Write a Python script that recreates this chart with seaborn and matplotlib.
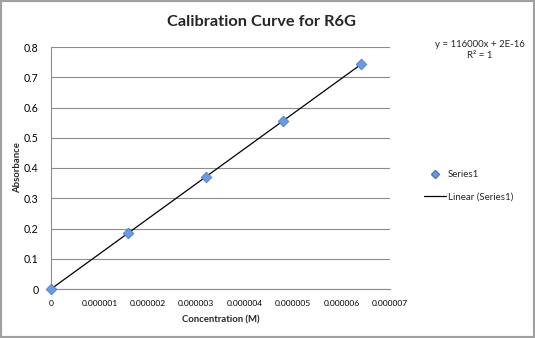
import matplotlib
matplotlib.use("Agg")
import matplotlib.pyplot as plt
import seaborn as sns
import numpy as np
import pandas as pd
from matplotlib.lines import Line2D
from matplotlib.patches import Rectangle

concentration = [0.0, 1.6e-6, 3.2e-6, 4.8e-6, 6.4e-6]
absorbance = [0.0, 0.1856, 0.3712, 0.5568, 0.7424]
x_ticks = [0, 0.000001, 0.000002, 0.000003, 0.000004, 0.000005, 0.000006, 0.000007]
x_tick_labels = ["0", "0.000001", "0.000002", "0.000003", "0.000004", "0.000005", "0.000006", "0.000007"]
y_ticks = [0, 0.1, 0.2, 0.3, 0.4, 0.5, 0.6, 0.7, 0.8]
y_tick_labels = ["0", "0.1", "0.2", "0.3", "0.4", "0.5", "0.6", "0.7", "0.8"]

df = pd.DataFrame({"Concentration (M)": concentration, "Absorbance": absorbance})

sns.set_theme(style="white")
plt.rcParams['font.family'] = ['Lato', 'DejaVu Sans']

fig = plt.figure(figsize=(5.35, 3.38), dpi=100)
ax = fig.add_axes([51/535, 49/338, 339/535, 242/338])

# trendline
slope, intercept = np.polyfit(concentration, absorbance, 1)
xs = np.array([concentration[0], concentration[-1]])
ax.plot(xs, slope*xs + intercept, color="black", lw=0.9, zorder=3)

sns.scatterplot(data=df, x="Concentration (M)", y="Absorbance", marker="D", s=30,
                color="#6a9be0", edgecolor="#4a78b8", linewidth=0.5, ax=ax, zorder=4, clip_on=False)

ax.set_xlim(0, 0.000007)
ax.set_ylim(0, 0.8)
ax.set_xticks(x_ticks)
ax.set_xticklabels(x_tick_labels, fontsize=6.1)
ax.set_yticks(y_ticks)
ax.set_yticklabels(y_tick_labels, fontsize=7.6)
ax.yaxis.grid(True, color="#8c8c8c", lw=0.8)
ax.set_axisbelow(True)
for s in ["top", "right"]:
    ax.spines[s].set_visible(False)
for s in ["left", "bottom"]:
    ax.spines[s].set_color("#8c8c8c")
    ax.spines[s].set_linewidth(0.8)
ax.tick_params(axis="x", direction="out", length=3, width=0.8, color="#8c8c8c", pad=5, labelcolor="black")
ax.tick_params(axis="y", direction="out", length=3, width=0.8, color="#8c8c8c", pad=6, labelcolor="black")
ax.set_xlabel("Concentration (M)", fontsize=6.8, fontweight="bold", labelpad=6)
ax.set_ylabel("Absorbance", fontsize=6.8, fontweight="bold", labelpad=1)

fig.text(261/535, 1 - 22/338, "Calibration Curve for R6G", ha="center", va="center",
         fontsize=11.8, fontweight="bold")

fig.text(480/535, 1 - 50/338, "y = 116000x + 2E-16\nR² = 1", ha="center", va="center",
         fontsize=6.9, linespacing=1.3)

handles = [Line2D([], [], marker="D", color="none", markerfacecolor="#6a9be0",
                  markeredgecolor="#4a78b8", markersize=4, label="Series1"),
           Line2D([], [], color="black", lw=0.9, label="Linear (Series1)")]
fig.legend(handles=handles, loc="center left", bbox_to_anchor=(415/535, 1 - 186/338),
           frameon=False, fontsize=7.0, handlelength=2.3, labelspacing=1.35, handletextpad=0.2)

fig.patches.append(Rectangle((0, 0), 1, 1, transform=fig.transFigure, fill=False,
                             edgecolor="#a0a0a0", lw=3))

fig.savefig("out.png", dpi=100)
